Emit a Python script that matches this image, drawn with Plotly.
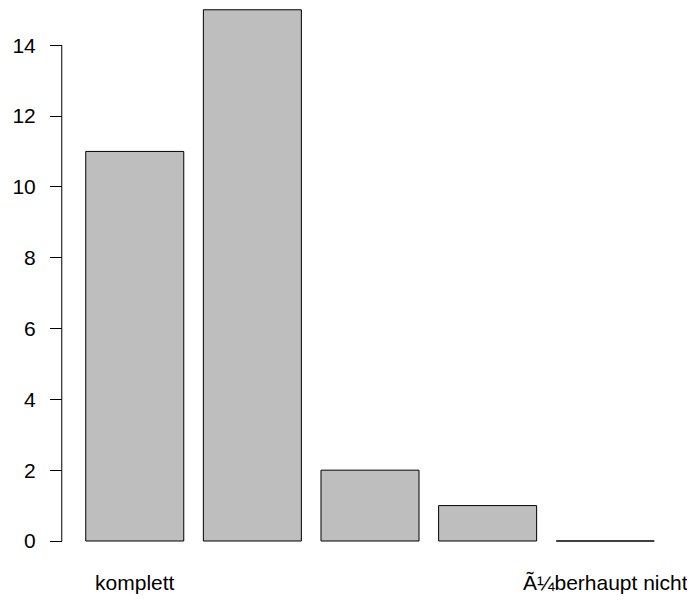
import plotly.graph_objects as go

categories = ["komplett", "", "", "", "Ã¼berhaupt nicht"]
values = [11, 15, 2, 1, 0]
y_ticks = [0, 2, 4, 6, 8, 10, 12, 14]

xpos = list(range(len(categories)))
font = dict(family="Liberation Sans, Arial, sans-serif", size=21, color="black")

fig = go.Figure(go.Bar(
    x=xpos, y=values,
    marker=dict(color="#BEBEBE", line=dict(color="black", width=1)),
    width=1/1.2,
))

fig.update_layout(
    width=687, height=592,
    margin=dict(l=55, r=18, t=0, b=38),
    paper_bgcolor="white", plot_bgcolor="white",
    showlegend=False,
    font=font,
    xaxis=dict(
        range=[-0.61, 4.61], tickvals=xpos, ticktext=categories,
        showline=False, showgrid=False, zeroline=False, ticks="",
        tickfont=font, ticklabelstandoff=6, automargin=False,
    ),
    yaxis=dict(
        range=[-0.593, 15.05], tickvals=y_ticks, ticktext=[str(t) for t in y_ticks],
        showline=False, showgrid=False, zeroline=False,
        ticks="outside", ticklen=12, tickwidth=1, tickcolor="black",
        tickfont=font, ticklabelstandoff=10, automargin=False,
    ),
)
fig.add_shape(type="line", xref="paper", yref="y",
              x0=-0.002, x1=-0.002, y0=y_ticks[0], y1=y_ticks[-1],
              line=dict(color="black", width=1))

fig.write_html("out.html")
